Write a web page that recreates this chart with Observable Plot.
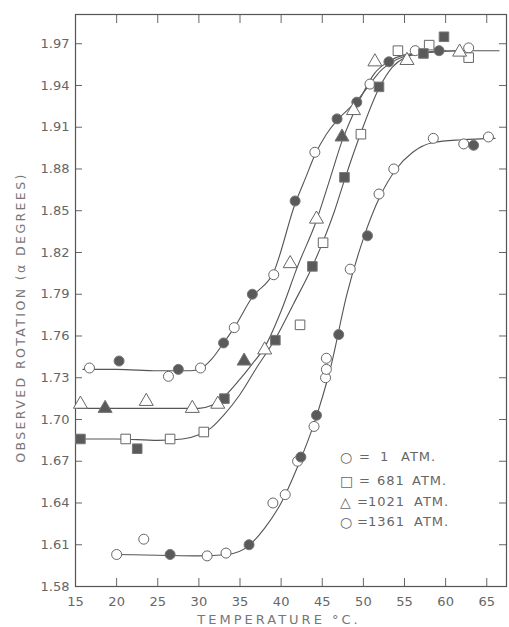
<!DOCTYPE html>
<html>
<head>
<meta charset="utf-8">
<script src="https://cdn.jsdelivr.net/npm/d3@7"></script>
<script src="https://cdn.jsdelivr.net/npm/@observablehq/plot@0.6"></script>
<style>
  body { margin: 0; background: #fff; }
  #wrap { position: relative; width: 509px; height: 627px; font-family: "DejaVu Sans", sans-serif; }
  #legend { position: absolute; left: 0; top: 0; width: 509px; height: 627px; pointer-events: none; color: #666; font-size: 13px; letter-spacing: 1px; }
  #legend span { position: absolute; white-space: nowrap; line-height: 16px; }
</style>
</head>
<body>
<div id="wrap"></div>
<script>
// ---------- data ----------
const xTicks = [15, 20, 25, 30, 35, 40, 45, 50, 55, 60, 65];
const yTicks = [1.58, 1.61, 1.64, 1.67, 1.70, 1.73, 1.76, 1.79, 1.82, 1.85, 1.88, 1.91, 1.94, 1.97];
const xLabel = "TEMPERATURE °C.";
const yLabel = "OBSERVED ROTATION (α DEGREES)";
const legendSymbols = ["○", "□", "△", "○"];
const legendNumbers = ["1", "681", "1021", "1361"];
const legendUnit = "ATM.";

// 1 atm (circles, upper curve)
const atm1T = [16.7, 20.3, 26.3, 27.5, 30.2, 33.0, 34.3, 36.5, 39.1, 41.7, 44.1, 46.8, 49.2, 50.8, 53.1, 56.3, 59.2, 62.8];
const atm1V = [1.737, 1.742, 1.731, 1.736, 1.737, 1.755, 1.766, 1.790, 1.804, 1.857, 1.892, 1.916, 1.928, 1.941, 1.957, 1.965, 1.965, 1.967];
const atm1Filled = [0, 1, 0, 1, 0, 1, 0, 1, 0, 1, 0, 1, 1, 0, 1, 0, 1, 0];
const atm1CurveT = [15.9, 20, 25, 29, 30.2, 31.5, 33, 34.3, 36.5, 39.1, 41.7, 43, 44.1, 45.5, 46.8, 48, 49.2, 50.8, 52, 53, 55, 58, 62, 66.5];
const atm1CurveV = [1.736, 1.736, 1.735, 1.735, 1.7365, 1.743, 1.755, 1.766, 1.788, 1.806, 1.855, 1.874, 1.890, 1.905, 1.915, 1.922, 1.929, 1.941, 1.950, 1.955, 1.961, 1.964, 1.965, 1.965];

// 681 atm (squares)
const atm681T = [15.6, 21.1, 22.5, 26.5, 30.6, 33.1, 39.3, 42.3, 43.8, 45.1, 47.7, 49.7, 51.9, 54.2, 57.3, 58.0, 59.8, 62.8];
const atm681V = [1.686, 1.686, 1.679, 1.686, 1.691, 1.715, 1.757, 1.768, 1.810, 1.827, 1.874, 1.905, 1.939, 1.965, 1.963, 1.969, 1.975, 1.960];
const atm681Filled = [1, 0, 1, 0, 0, 1, 1, 0, 1, 0, 1, 0, 1, 0, 1, 0, 1, 0];
const atm681CurveT = [15.2, 20, 25, 28, 30, 31.5, 33, 35, 37, 39.3, 41.5, 43.8, 45.1, 46.5, 47.7, 49.7, 51.9, 53.5, 55, 57, 60];
const atm681CurveV = [1.686, 1.686, 1.685, 1.686, 1.689, 1.694, 1.703, 1.718, 1.737, 1.758, 1.783, 1.810, 1.828, 1.850, 1.872, 1.906, 1.938, 1.953, 1.960, 1.963, 1.965];

// 1021 atm (triangles)
const atm1021T = [15.6, 18.6, 23.6, 29.2, 32.3, 35.5, 38.0, 41.1, 44.3, 47.4, 48.8, 51.4, 55.3, 61.7];
const atm1021V = [1.711, 1.708, 1.713, 1.708, 1.711, 1.742, 1.750, 1.812, 1.844, 1.903, 1.922, 1.957, 1.958, 1.964];
const atm1021Filled = [0, 1, 0, 0, 0, 1, 0, 0, 0, 1, 0, 0, 0, 0];
const atm1021CurveT = [15.2, 20, 25, 30, 31.5, 33, 35, 36.5, 38, 40, 42, 44.3, 46, 47.4, 48.8, 50, 51.4, 53, 55, 58, 62];
const atm1021CurveV = [1.708, 1.708, 1.708, 1.708, 1.710, 1.716, 1.729, 1.740, 1.752, 1.778, 1.810, 1.843, 1.874, 1.900, 1.920, 1.935, 1.949, 1.957, 1.962, 1.964, 1.965];

// 1361 atm (circles, lower curve)
const atm1361T = [20.0, 23.3, 26.5, 31.0, 33.3, 36.1, 39.0, 40.5, 42.0, 42.4, 44.0, 44.3, 45.4, 45.5, 45.5, 47.0, 48.4, 50.5, 51.9, 53.7, 58.5, 62.2, 63.4, 65.2];
const atm1361V = [1.603, 1.614, 1.603, 1.602, 1.604, 1.610, 1.640, 1.646, 1.670, 1.673, 1.695, 1.703, 1.730, 1.736, 1.744, 1.761, 1.808, 1.832, 1.862, 1.880, 1.902, 1.898, 1.897, 1.903];
const atm1361Filled = [0, 0, 1, 0, 0, 1, 0, 0, 0, 1, 0, 1, 0, 0, 0, 1, 0, 1, 0, 0, 0, 0, 1, 0];
const atm1361CurveT = [19.5, 25, 30, 33.5, 36, 38, 40, 42, 44, 46, 48, 50, 52, 54, 56, 58.5, 62, 66];
const atm1361CurveV = [1.603, 1.6025, 1.602, 1.603, 1.609, 1.622, 1.640, 1.666, 1.697, 1.737, 1.790, 1.830, 1.860, 1.880, 1.892, 1.899, 1.901, 1.902];

// ---------- build tables ----------
const rows = (T, V, F) => T.map((t, i) => ({T: t, v: V[i], filled: F ? F[i] : 0}));
const series = [
  {name: "1 atm", symbol: "circle", r: 5, pts: rows(atm1T, atm1V, atm1Filled), curve: rows(atm1CurveT, atm1CurveV)},
  {name: "681 atm", symbol: "square", r: 5.4, pts: rows(atm681T, atm681V, atm681Filled), curve: rows(atm681CurveT, atm681CurveV)},
  {name: "1021 atm", symbol: "triangle", r: 5.2, pts: rows(atm1021T, atm1021V, atm1021Filled), curve: rows(atm1021CurveT, atm1021CurveV)},
  {name: "1361 atm", symbol: "circle", r: 5, pts: rows(atm1361T, atm1361V, atm1361Filled), curve: rows(atm1361CurveT, atm1361CurveV)}
];

const W = 509, H = 627, ML = 75, MR = 3, MT = 14, MB = 41;
const fw = W - ML - MR, fh = H - MT - MB;
const ink = "#555";
const tickInk = "#666";
const marks = [];
// inward tick marks on all four sides
marks.push(Plot.tickX(xTicks.slice(1), {x: d => d, insetTop: fh - 8, stroke: tickInk}));
marks.push(Plot.tickX(xTicks.slice(1), {x: d => d, insetBottom: fh - 9, stroke: tickInk}));
marks.push(Plot.tickY(yTicks.slice(1), {y: d => d, insetRight: fw - 7, stroke: tickInk}));
marks.push(Plot.tickY(yTicks.slice(1), {y: d => d, insetLeft: fw - 7, stroke: tickInk}));
marks.push(Plot.frame({stroke: "#555", strokeWidth: 1.2}));
// tick labels
marks.push(Plot.axisX(xTicks, {anchor: "bottom", tickSize: 0, tickPadding: 10, tickFormat: d => String(d), fontSize: 13, label: null}));
marks.push(Plot.axisY(yTicks, {anchor: "left", tickSize: 0, tickPadding: 6, tickFormat: d3.format(".2f"), fontSize: 13, label: null}));

for (const s of series) {
  marks.push(Plot.line(s.curve, {x: "T", y: "v", curve: "monotone-x", stroke: ink, strokeWidth: 1.1}));
}
for (const s of series) {
  marks.push(Plot.dot(s.pts, {filter: d => !d.filled, x: "T", y: "v", symbol: s.symbol, r: s.r, fill: "white", stroke: "#666", strokeWidth: 1}));
  marks.push(Plot.dot(s.pts, {filter: d => d.filled, x: "T", y: "v", symbol: s.symbol, r: s.r, fill: "#5a5a5a", stroke: "#777", strokeWidth: 1}));
}
marks.push(Plot.text([yLabel], {frameAnchor: "left", textAnchor: "middle", lineAnchor: "middle", rotate: -90, dx: -55, dy: 17, fontSize: 12.5, fill: "#777"}));
marks.push(Plot.text([xLabel], {frameAnchor: "bottom", textAnchor: "middle", lineAnchor: "middle", dy: 33, dx: -12, fontSize: 13, fill: "#777"}));

const chart = Plot.plot({
  width: W,
  height: H,
  marginLeft: ML,
  marginRight: MR,
  marginTop: MT,
  marginBottom: MB,
  x: {domain: [15, 67.4], label: null},
  y: {domain: [1.58, 1.991], label: null},
  style: {fontFamily: "DejaVu Sans, sans-serif", fontSize: "13px", color: "#666", background: "white"},
  marks
});

const wrap = document.getElementById("wrap");
wrap.appendChild(chart);

// letter spacing for axis titles
chart.querySelectorAll("text").forEach(t => {
  if (t.textContent === yLabel) t.setAttribute("letter-spacing", "2.4");
  if (t.textContent === xLabel) t.setAttribute("letter-spacing", "3");
});

// ---------- legend ----------
const legend = document.createElement("div");
legend.id = "legend";
const rowTop = [449, 473, 494, 514];
const eqLeft = [359, 359, 357, 357];
const numLeft = [380, 377, 368, 368];
const unitLeft = [401, 412, 414, 414];
legendSymbols.forEach((sym, i) => {
  const a = document.createElement("span");
  a.textContent = sym; a.style.left = "340px"; a.style.top = rowTop[i] + "px"; a.style.fontSize = "14px"; a.style.letterSpacing = "0";
  const b = document.createElement("span");
  b.textContent = "="; b.style.left = eqLeft[i] + "px"; b.style.top = rowTop[i] + "px"; b.style.letterSpacing = "0";
  const c = document.createElement("span");
  c.textContent = legendNumbers[i]; c.style.left = numLeft[i] + "px"; c.style.top = rowTop[i] + "px";
  const d = document.createElement("span");
  d.textContent = legendUnit; d.style.left = unitLeft[i] + "px"; d.style.top = rowTop[i] + "px";
  legend.append(a, b, c, d);
});
wrap.appendChild(legend);
</script>
</body>
</html>
